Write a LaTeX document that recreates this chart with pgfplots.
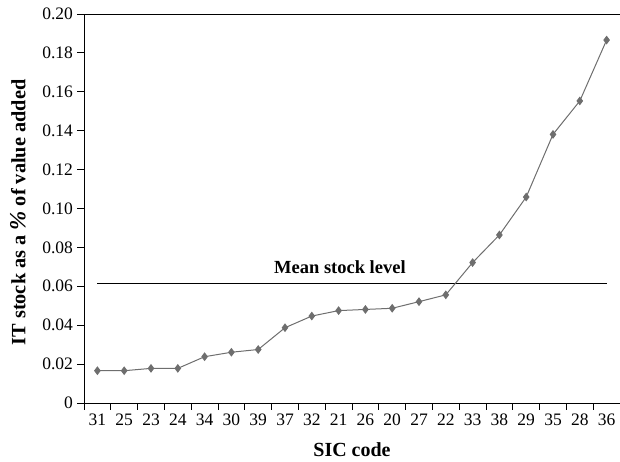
\documentclass[border=0pt]{standalone}
\usepackage{fontspec}
\setmainfont{Liberation Serif}
\usepackage{pgfplots}
\pgfplotsset{compat=1.18}
\definecolor{linegray}{RGB}{110,110,110}
\begin{document}
\begin{tikzpicture}
\begin{axis}[
  name=ax,
  scale only axis, width=536pt, height=389pt,
  xmin=-0.5, xmax=19.5, ymin=0, ymax=0.2,
  axis x line*=bottom, axis y line*=left,
  axis line style={black, line width=0.9pt},
  tick align=outside,
  xtick={-0.5,0.5,1.5,2.5,3.5,4.5,5.5,6.5,7.5,8.5,9.5,10.5,11.5,12.5,13.5,14.5,15.5,16.5,17.5,18.5,19.5},
  x tick label as interval,
  xticklabels={31,25,23,24,34,30,39,37,32,21,26,20,27,22,33,38,29,35,28,36},
  major tick length=6.5pt,
  tick style={black, line width=0.9pt},
  ytick={0,0.02,0.04,0.06,0.08,0.10,0.12,0.14,0.16,0.18,0.20},
  yticklabels={0,0.02,0.04,0.06,0.08,0.10,0.12,0.14,0.16,0.18,0.20},
  /pgf/number format/assume math mode=true,
  ticklabel style={font=\fontsize{17.5}{20}\selectfont},
  xticklabel style={yshift=-1pt},
  yticklabel style={xshift=-1pt},
  xlabel={SIC code},
  ylabel={IT stock as a {\fontsize{23}{24}\selectfont\textit{\%}} of value added},
  every axis x label/.style={at={(rel axis cs:0.5,0)}, anchor=base, yshift=-53pt, font=\fontsize{20}{24}\selectfont\bfseries},
  every axis y label/.style={at={(rel axis cs:0,0.5)}, rotate=90, anchor=center, yshift=66pt, xshift=-4pt, font=\fontsize{20.3}{24}\selectfont\bfseries},
  clip=false,
]
\draw[black, line width=0.9pt] (rel axis cs:0,1) -- (rel axis cs:1,1);
\addplot[black, line width=0.9pt] coordinates {(0,0.0615) (19,0.0615)};
\addplot[linegray, line width=1pt, mark=diamond*, mark size=3.6pt, mark options={fill=linegray, draw=linegray}] coordinates {
(0,0.0166) (1,0.0166) (2,0.0178) (3,0.0178) (4,0.0238) (5,0.0261) (6,0.0275) (7,0.0387) (8,0.0447) (9,0.0475)
(10,0.0481) (11,0.0487) (12,0.0521) (13,0.0556) (14,0.0722) (15,0.0864) (16,0.1059) (17,0.1381) (18,0.1553) (19,0.1866)
};
\node[anchor=base, font=\fontsize{18.5}{22}\selectfont\bfseries, inner sep=0pt] at (axis cs:9.05,0.0667) {Mean stock level};
\end{axis}
\pgfresetboundingbox
\path ([shift={(-84pt,-59pt)}]ax.south west) rectangle ([shift={(0pt,14pt)}]ax.north east);
\end{tikzpicture}
\end{document}
